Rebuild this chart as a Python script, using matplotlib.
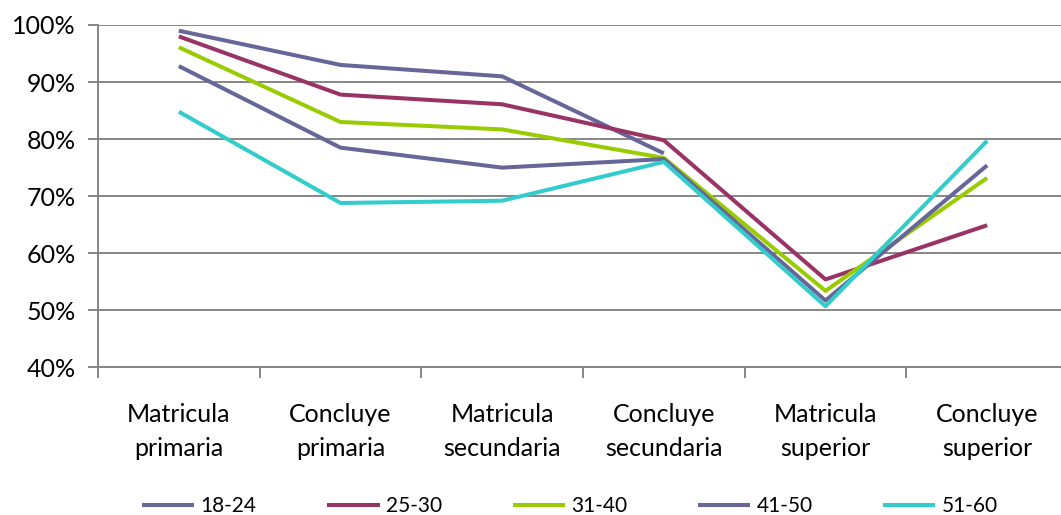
import numpy as np
import matplotlib
matplotlib.use("Agg")
import matplotlib.pyplot as plt
from matplotlib.ticker import FixedLocator, PercentFormatter

CATEGORIES = [
    "Matricula\nprimaria", "Concluye\nprimaria", "Matricula\nsecundaria",
    "Concluye\nsecundaria", "Matricula\nsuperior", "Concluye\nsuperior",
]
SERIES = ["18-24", "25-30", "31-40", "41-50", "51-60"]
V_18_24 = [99.0, 93.0, 91.0, 77.5, np.nan, np.nan]
V_25_30 = [98.0, 87.8, 86.1, 79.8, 55.4, 64.9]
V_31_40 = [96.1, 83.0, 81.7, 76.7, 53.4, 73.2]
V_41_50 = [92.8, 78.5, 75.0, 76.5, 51.7, 75.4]
V_51_60 = [84.8, 68.8, 69.2, 76.0, 50.7, 79.7]
COLORS = ["#666699", "#993366", "#99CC00", "#666699", "#33CCCC"]
Y_TICKS = [40, 50, 60, 70, 80, 90, 100]

plt.rcParams["font.family"] = ["Lato", "DejaVu Sans"]
GRID = "#868686"

fig = plt.figure(figsize=(10.61, 5.15), dpi=100)
ax = fig.add_axes([98 / 1061, (515 - 367.3) / 515, 970 / 1061, 342.3 / 515])

x = np.arange(len(CATEGORIES))
for name, vals, col in zip(SERIES, [V_18_24, V_25_30, V_31_40, V_41_50, V_51_60], COLORS):
    ax.plot(x, vals, color=col, lw=2.9, label=name, solid_capstyle="butt", zorder=3)

ax.set_xlim(-0.5, len(CATEGORIES) - 0.5)
ax.set_ylim(40, 100)
ax.yaxis.set_major_locator(FixedLocator(Y_TICKS))
ax.yaxis.set_major_formatter(PercentFormatter(decimals=0))
ax.grid(axis="y", color=GRID, lw=1.4, zorder=1)

ax.set_xticks(x)
ax.set_xticklabels(CATEGORIES, linespacing=1.55)
ax.set_xticks(np.arange(-0.5, len(CATEGORIES)), minor=True)
ax.tick_params(axis="x", which="major", length=0, pad=26, labelsize=18, colors="#000000")
ax.tick_params(axis="x", which="minor", length=8, width=1.4, color=GRID)
ax.tick_params(axis="y", length=7, width=1.4, color=GRID, pad=9, labelsize=18)

for side in ["top", "right"]:
    ax.spines[side].set_visible(False)
for side in ["left", "bottom"]:
    ax.spines[side].set_color(GRID)
    ax.spines[side].set_linewidth(1.4)

fig.legend(
    loc="center", bbox_to_anchor=(570 / 1061, (515 - 506) / 515), ncol=5, frameon=False,
    handlelength=2.5, handletextpad=0.3, columnspacing=3.4,
    prop={"family": ["Lato", "DejaVu Sans"], "size": 15},
)

fig.savefig("out.png", dpi=100)
